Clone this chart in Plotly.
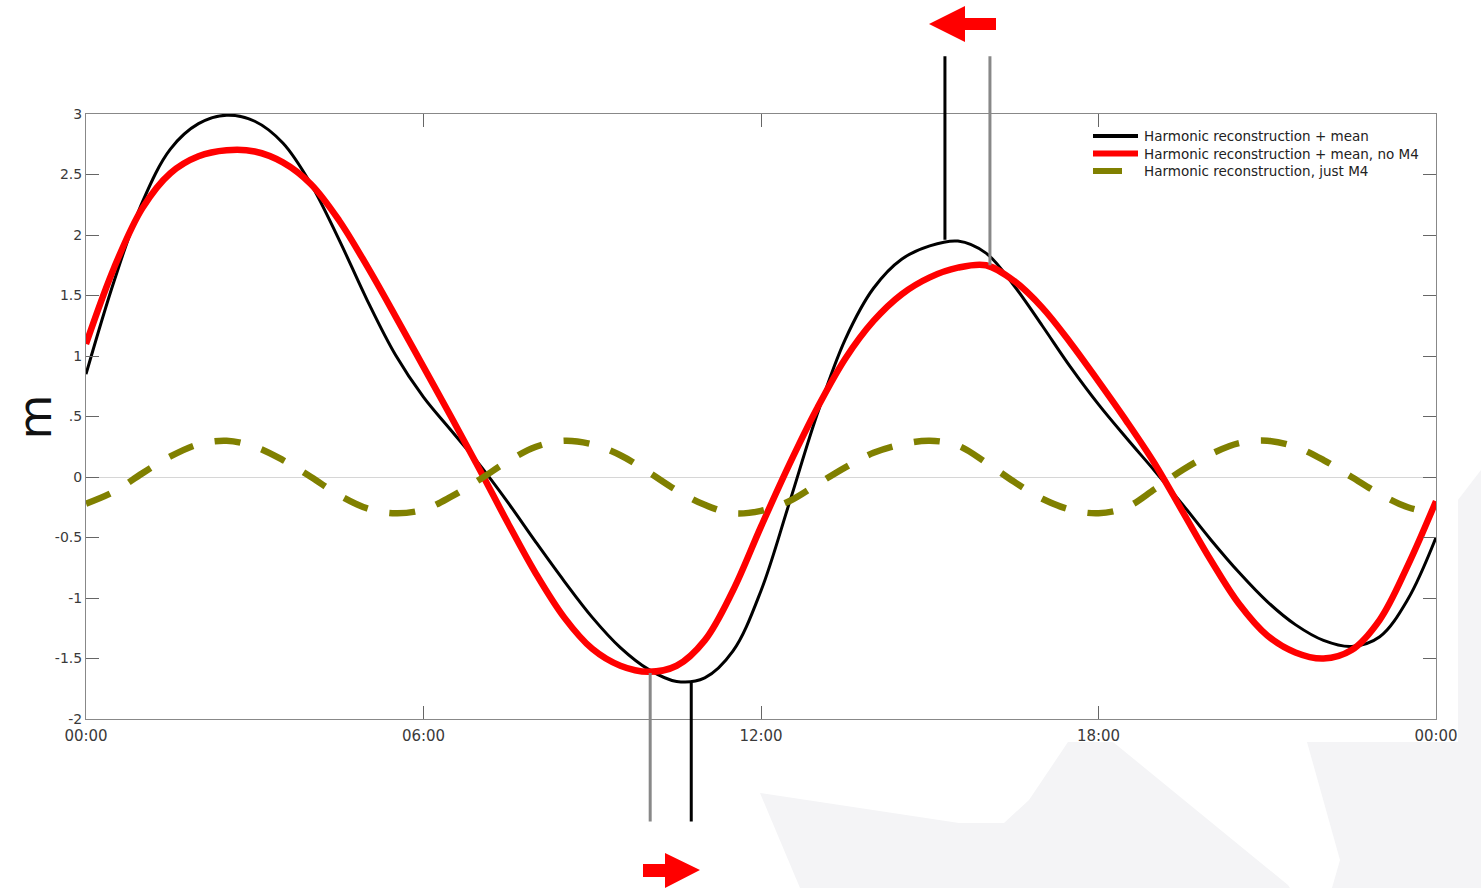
import plotly.graph_objects as go

# Time of day in hours (00:00 to next 00:00)
HOURS = [0.0, 0.5, 1.0, 1.5, 2.0, 2.5, 3.0, 3.5, 4.0, 4.5, 5.0, 5.5, 6.0, 6.5,
         7.0, 7.5, 8.0, 8.5, 9.0, 9.5, 10.0, 10.5, 11.0, 11.5, 12.0, 12.5,
         13.0, 13.5, 14.0, 14.5, 15.0, 15.5, 16.0, 16.5, 17.0, 17.5, 18.0,
         18.5, 19.0, 19.5, 20.0, 20.5, 21.0, 21.5, 22.0, 22.5, 23.0, 23.5, 24.0]

# Water level (m)
FULL = [0.85, 1.62, 2.27, 2.71, 2.92, 2.99, 2.94, 2.76, 2.42,
        1.96, 1.46, 1.01, 0.66, 0.38, 0.10, -0.21, -0.54, -0.86,
        -1.16, -1.41, -1.59, -1.69, -1.66, -1.44, -0.94, -0.22, 0.52,
        1.14, 1.56, 1.80, 1.91, 1.95, 1.85, 1.58, 1.25, 0.91,
        0.60, 0.32, 0.05, -0.23, -0.52, -0.79, -1.03, -1.22, -1.35,
        -1.40, -1.32, -1.01, -0.50]

NO_M4 = [1.10, 1.73, 2.22, 2.51, 2.65, 2.70, 2.69, 2.60, 2.42,
         2.12, 1.74, 1.33, 0.91, 0.49, 0.06, -0.38, -0.80, -1.16,
         -1.42, -1.56, -1.61, -1.56, -1.35, -0.94, -0.41, 0.10, 0.57,
         0.98, 1.29, 1.51, 1.65, 1.73, 1.75, 1.62, 1.40, 1.11,
         0.79, 0.46, 0.11, -0.29, -0.69, -1.05, -1.31, -1.45, -1.50,
         -1.43, -1.18, -0.73, -0.20]

JUST_M4 = [-0.22, -0.12, 0.03, 0.17, 0.27, 0.30, 0.25, 0.14, 0.00,
           -0.15, -0.26, -0.30, -0.27, -0.16, -0.02, 0.13, 0.25, 0.30,
           0.27, 0.18, 0.04, -0.11, -0.23, -0.30, -0.28, -0.20, -0.06,
           0.08, 0.20, 0.27, 0.30, 0.26, 0.12, -0.04, -0.18, -0.27,
           -0.30, -0.25, -0.10, 0.06, 0.19, 0.28, 0.30, 0.25, 0.14,
           0.00, -0.14, -0.25, -0.30]

SERIES_NAMES = ["Harmonic reconstruction + mean",
                "Harmonic reconstruction + mean, no M4",
                "Harmonic reconstruction, just M4"]

TICK_HOURS = [0, 6, 12, 18, 24]
TICK_TIMES = ["00:00", "06:00", "12:00", "18:00", "00:00"]
Y_TICKS = [-2, -1.5, -1, -0.5, 0, 0.5, 1, 1.5, 2, 2.5, 3]
Y_TICK_TEXT = ["-2", "-1.5", "-1", "-0.5", "0", ".5", "1", "1.5", "2", "2.5", "3"]

# Extremes flagged with vertical guides: hour, level, far end of guide, colour
GUIDE_HOURS = [15.27, 16.07, 10.03, 10.76]
GUIDE_LEVELS = [1.96, 1.75, -1.62, -1.70]
GUIDE_ENDS = [3.49, 3.49, -2.86, -2.86]
GUIDE_COLORS = ["#000000", "#888888", "#888888", "#000000"]

W, H = 1481, 888
L, R, T, B = 86, 45, 114, 169
PW, PH = W - L - R, H - T - B

COLORS = ["#000000", "#ff0000", "#808000"]
WIDTHS = [3, 6.5, 6.5]


def paper(px, py):
    """Pixel position on the page -> paper coordinates."""
    return (px - L) / PW, (H - B - py) / PH


def path(points):
    pts = [paper(x, y) for x, y in points]
    return "M" + "L".join(f"{x:.5f},{y:.5f}" for x, y in pts) + "Z"


fig = go.Figure()
for ys, name, col, wd, dash in zip([FULL, NO_M4, JUST_M4], SERIES_NAMES, COLORS,
                                   WIDTHS, ["solid", "solid", "26px,22px"]):
    fig.add_trace(go.Scatter(x=HOURS, y=ys, mode="lines", name=name, showlegend=False,
                             line=dict(color=col, width=wd, shape="spline",
                                       smoothing=1.0, dash=dash)))

annotations = []
for hx, lv, end, col in zip(GUIDE_HOURS, GUIDE_LEVELS, GUIDE_ENDS, GUIDE_COLORS):
    annotations.append(dict(x=hx, y=lv, xref="x", yref="y", ax=hx, ay=end,
                            axref="x", ayref="y", text="", showarrow=True,
                            arrowhead=0, arrowwidth=3, arrowcolor=col,
                            standoff=0, startstandoff=0))

# axis label
ax_x, _ = paper(34, 416)
annotations.append(dict(x=ax_x, y=0.5, xref="paper", yref="paper", text="m",
                        textangle=-90, showarrow=False, xanchor="center",
                        yanchor="middle",
                        font=dict(family="DejaVu Sans", size=46, color="#111111")))

shapes = [
    # faint background emblem
    dict(type="path", xref="paper", yref="paper", layer="below", line=dict(width=0),
         fillcolor="#f4f4f6",
         path=path([(760, 793), (959, 823), (1004, 823), (1029, 800), (1068, 742),
                    (1113, 742), (1288, 885), (1290, 888), (800, 888)])),
    dict(type="path", xref="paper", yref="paper", layer="below", line=dict(width=0),
         fillcolor="#f4f4f6",
         path=path([(1307, 742), (1458, 742), (1458, 500), (1481, 470), (1481, 888),
                    (1332, 888), (1340, 860)])),
    # red direction arrows
    dict(type="path", xref="paper", yref="paper", line=dict(width=0), fillcolor="#ff0000",
         path=path([(929, 24), (965, 6), (965, 18), (996, 18), (996, 30),
                    (965, 30), (965, 42)])),
    dict(type="path", xref="paper", yref="paper", line=dict(width=0), fillcolor="#ff0000",
         path=path([(700, 870), (665, 853), (665, 864), (643, 864), (643, 877),
                    (665, 877), (665, 888)])),
]

# key in the upper right corner
KEY_ROWS = [136, 153.5, 171]
KEY_ENDS = [1138, 1138, 1122]
KEY_WIDTHS = [4, 6, 6]
for name, col, row, xend, wd in zip(SERIES_NAMES, COLORS, KEY_ROWS, KEY_ENDS, KEY_WIDTHS):
    x0, y0 = paper(1093, row)
    x1, _ = paper(xend, row)
    shapes.append(dict(type="line", xref="paper", yref="paper", x0=x0, x1=x1,
                       y0=y0, y1=y0, line=dict(color=col, width=wd)))
    tx, _ = paper(1142, row)
    annotations.append(dict(x=tx, y=y0, xref="paper", yref="paper", text=name,
                            showarrow=False, xanchor="left", yanchor="middle",
                            font=dict(family="DejaVu Sans", size=13.5, color="#222222")))

fig.update_layout(
    width=W, height=H,
    margin=dict(l=L, r=R, t=T, b=B, pad=0),
    paper_bgcolor="#ffffff", plot_bgcolor="#ffffff",
    font=dict(family="DejaVu Sans", size=14, color="#3a3a3a"),
    showlegend=False,
    annotations=annotations,
    shapes=shapes,
)
fig.update_xaxes(range=[0, 24], tickvals=TICK_HOURS, ticktext=TICK_TIMES,
                 showgrid=False, zeroline=False, showline=True, linecolor="#888888",
                 linewidth=1, mirror="ticks", ticks="inside", ticklen=13,
                 tickcolor="#666666", ticklabelstandoff=3,
                 tickfont=dict(size=15, color="#3a3a3a"))
fig.update_yaxes(range=[-2, 3], tickvals=Y_TICKS, ticktext=Y_TICK_TEXT,
                 showgrid=False, zeroline=True, zerolinecolor="#d6d6d6",
                 zerolinewidth=1, showline=True, linecolor="#888888", linewidth=1,
                 mirror="ticks", ticks="inside", ticklen=13, tickcolor="#666666",
                 tickfont=dict(size=14, color="#3a3a3a"))

fig.write_html("out.html")
